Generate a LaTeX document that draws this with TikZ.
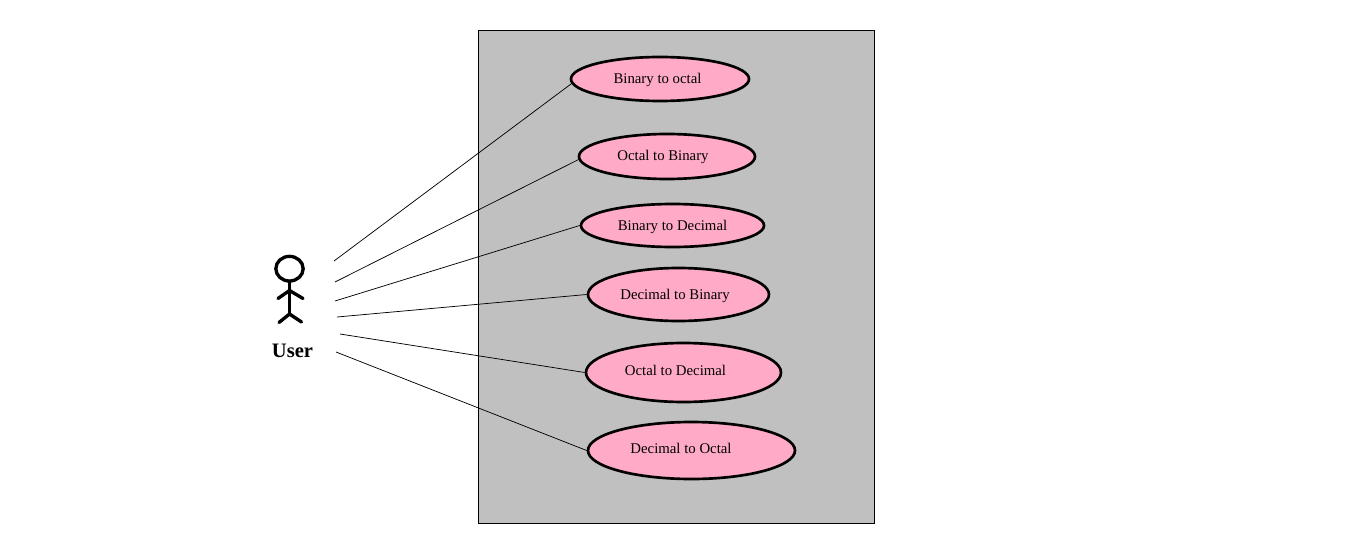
\documentclass[tikz,border=0pt]{standalone}
\usepackage{fontspec}
\setmainfont{Liberation Serif}
\usetikzlibrary{shapes.geometric}
\definecolor{boxgrey}{RGB}{192,192,192}
\definecolor{casepink}{RGB}{255,170,198}
\tikzset{
  px/.style={x=0.75pt,y=-0.75pt},
  sysbox/.style={draw=black,fill=boxgrey,line width=0.75pt,minimum width=297pt,minimum height=369.75pt,inner sep=0pt},
  usecase/.style={ellipse,draw=black,fill=casepink,line width=2pt,inner sep=0pt},
  caselabel/.style={font=\fontsize{11.1pt}{13pt}\selectfont,inner sep=0pt},
  assoc/.style={draw=black,line width=0.55pt},
  stick/.style={draw=black,line width=2.5pt,line cap=round}
}
\begin{document}
\begin{tikzpicture}[px]
\useasboundingbox (0,0) rectangle (1345,560);
\node[sysbox] (sys) at (676,276.75) {};
\node[usecase,minimum width=133.5pt,minimum height=33pt] (e1) at (660,79) {};
\node[usecase,minimum width=132pt,minimum height=33.75pt] (e2) at (667,156.5) {};
\node[usecase,minimum width=137.25pt,minimum height=32.25pt] (e3) at (672.5,225.5) {};
\node[usecase,minimum width=135.75pt,minimum height=39.75pt] (e4) at (678.5,294.5) {};
\node[usecase,minimum width=146.25pt,minimum height=44.25pt] (e5) at (683.5,372.5) {};
\node[usecase,minimum width=155.25pt,minimum height=42.75pt] (e6) at (691.5,450.5) {};
\node[caselabel] (t1) at (657.5,80) {Binary to octal};
\node[caselabel] (t2) at (663,157) {Octal to Binary};
\node[caselabel] (t3) at (672.5,227) {Binary to Decimal};
\node[caselabel] (t4) at (675,296) {Decimal to Binary};
\node[caselabel] (t5) at (675.5,370) {Octal to Decimal};
\node[caselabel] (t6) at (681,448) {Decimal to Octal};
\coordinate (u1) at (334,261);
\coordinate (u2) at (335,282);
\coordinate (u3) at (335,301);
\coordinate (u4) at (337,317);
\coordinate (u5) at (340,334);
\coordinate (u6) at (336,352);
\draw[assoc] (u1) -- (e1.183);
\draw[assoc] (u2) -- (e2.182);
\draw[assoc] (u3) -- (e3.west);
\draw[assoc] (u4) -- (e4.west);
\draw[assoc] (u5) -- (e5.west);
\draw[assoc] (u6) -- (e6.west);
\node[ellipse,draw=black,line width=2.5pt,minimum width=20.5pt,minimum height=18.5pt,inner sep=0pt] (head) at (289.5,268.7) {};
\coordinate (hip) at (289.5,314);
\coordinate (armc) at (289.5,290.5);
\coordinate (arml) at (278,298.5);
\coordinate (armr) at (303,298.5);
\coordinate (legl) at (279,322.5);
\coordinate (legr) at (301.5,322);
\draw[stick] (head.south) -- (hip);
\draw[stick] (arml) -- (armc) -- (armr);
\draw[stick] (legl) -- (hip) -- (legr);
\node[font=\bfseries\fontsize{15.4pt}{18pt}\selectfont,inner sep=0pt] (user) at (292.5,351) {User};
\end{tikzpicture}
\end{document}
